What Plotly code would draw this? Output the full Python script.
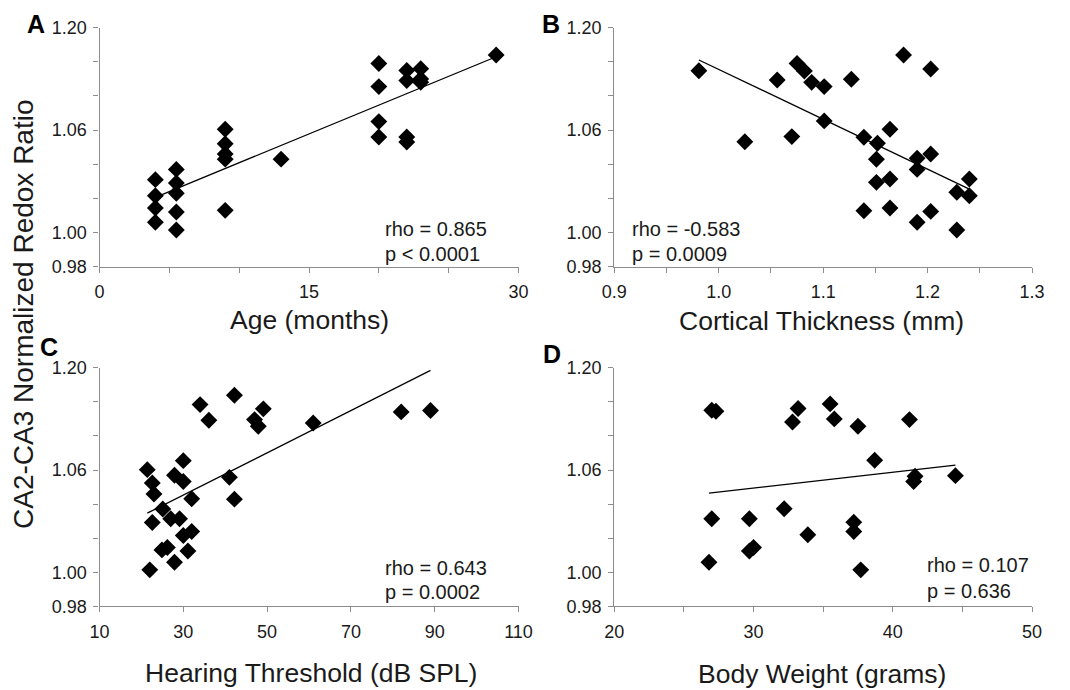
import numpy as np
import plotly.graph_objects as go

# ---------------- data ----------------
age_x = [4, 4, 4, 4, 5.5, 5.5, 5.5, 5.5, 5.5, 9, 9, 9, 9, 9, 13,
         20, 20, 20, 20, 22, 22, 22, 22, 23, 23, 23, 28.4]
age_y = [1.031, 1.0216, 1.0144, 1.006, 1.037, 1.029, 1.023, 1.012, 1.0015,
         1.0605, 1.052, 1.046, 1.043, 1.013, 1.043,
         1.099, 1.0855, 1.065, 1.056, 1.095, 1.089, 1.056, 1.053,
         1.096, 1.090, 1.088, 1.104]

ct_x = [0.981, 1.025, 1.056, 1.070, 1.075, 1.082, 1.089, 1.101, 1.101, 1.127,
        1.177, 1.139, 1.139, 1.152, 1.151, 1.151, 1.164, 1.164, 1.164,
        1.190, 1.190, 1.190, 1.203, 1.203, 1.203, 1.228, 1.228, 1.240, 1.240]
ct_y = [1.0948, 1.0532, 1.0894, 1.0562, 1.0991, 1.0946, 1.088, 1.0855, 1.0654, 1.0898,
        1.104, 1.0558, 1.0128, 1.0523, 1.0429, 1.0294, 1.0605, 1.0314, 1.0144,
        1.0435, 1.037, 1.006, 1.0958, 1.046, 1.0124, 1.0236, 1.0015, 1.0314, 1.0216]

ht_x = [21.4, 22.6, 23.0, 22.6, 22.0, 25.1, 24.9, 26.2, 27.0, 27.9, 27.9, 29.1,
        30.0, 30.0, 30.0, 31.1, 32.0, 32.0, 34.0, 36.1, 41.0, 42.2, 42.2,
        47.0, 47.9, 49.1, 61.0, 82.0, 89.0]
ht_y = [1.0602, 1.0524, 1.0459, 1.0292, 1.0014, 1.0371, 1.0131, 1.0145, 1.0314,
        1.0569, 1.0059, 1.0314, 1.0655, 1.0533, 1.0216, 1.0125, 1.0431, 1.0239,
        1.0984, 1.0892, 1.0557, 1.1039, 1.0429, 1.0896, 1.0857, 1.0959, 1.0876,
        1.0941, 1.0949]

bw_x = [27.0, 27.3, 27.0, 26.8, 29.7, 29.7, 30.0, 32.2, 32.8, 33.2, 33.9,
        35.5, 35.8, 37.2, 37.2, 37.5, 37.7, 38.7, 41.2, 41.5, 41.6, 44.5]
bw_y = [1.0951, 1.0945, 1.0314, 1.0059, 1.0314, 1.0125, 1.0145, 1.0373, 1.0882,
        1.0961, 1.022, 1.0988, 1.09, 1.0294, 1.0239, 1.0857, 1.0014, 1.0657,
        1.0896, 1.0533, 1.0563, 1.0567]

# trend-line fits (slope, intercept)
trend_a = (0.003374, 1.00717)
trend_b = (-0.29190, 1.38745)
trend_c = (0.0012396, 1.00812)
trend_d = (0.0009245, 1.02171)

stats = [("rho = 0.865", "p < 0.0001"), ("rho = -0.583", "p = 0.0009"),
         ("rho = 0.643", "p = 0.0002"), ("rho = 0.107", "p = 0.636")]
x_titles = ["Age (months)", "Cortical Thickness (mm)",
            "Hearing Threshold (dB SPL)", "Body Weight (grams)"]
panel_letters = ["A", "B", "C", "D"]
y_title = "CA2-CA3 Normalized Redox Ratio"

y_tickvals = [0.98, 1.00, 1.02, 1.04, 1.06, 1.08, 1.10, 1.12]
y_ticktext = ["0.98", "1.00", "", "", "1.06", "", "", "1.20"]

# ---------------- figure ----------------
W, H = 1070, 690
def px(x):
    return x / W
def py(y):
    return 1 - y / H

FONT = "Liberation Sans, Arial, sans-serif"
TXT = "#1a1a1a"
AX = "#8c8c8c"

fig = go.Figure()
panels = [
    (age_x, age_y, trend_a, "x", "y"),
    (ct_x, ct_y, trend_b, "x2", "y2"),
    (ht_x, ht_y, trend_c, "x3", "y3"),
    (bw_x, bw_y, trend_d, "x4", "y4"),
]
for xs, ys, (m, b), xa, ya in panels:
    fig.add_trace(go.Scatter(x=xs, y=ys, mode="markers", xaxis=xa, yaxis=ya,
                             marker=dict(symbol="diamond", size=13, color="black",
                                         line=dict(width=0)),
                             cliponaxis=False, showlegend=False))
    x0, x1 = min(xs), max(xs)
    fig.add_trace(go.Scatter(x=[x0, x1], y=[m * x0 + b, m * x1 + b], mode="lines",
                             xaxis=xa, yaxis=ya, line=dict(color="black", width=1.3),
                             cliponaxis=False, showlegend=False))

left_dom = [px(99.5), px(518.5)]
right_dom = [px(614.3), px(1032)]
top_dom = [py(266.7), py(27.7)]
bot_dom = [py(606.3), py(367.8)]

common_axis = dict(showgrid=False, zeroline=False, showline=True, linecolor=AX,
                   linewidth=1.2, ticks="outside", ticklen=5, tickcolor=AX,
                   tickwidth=1.2, automargin=False,
                   tickfont=dict(family=FONT, size=18, color=TXT))

def xaxis(dom, rng, tv, tt, anchor):
    return dict(domain=dom, range=rng, tickmode="array", tickvals=tv, ticktext=tt,
                anchor=anchor, ticklabelstandoff=4, **common_axis)

def yaxis(dom, anchor):
    return dict(domain=dom, range=[0.98, 1.12], tickmode="array",
                tickvals=y_tickvals, ticktext=y_ticktext, anchor=anchor,
                ticklabelstandoff=3, **common_axis)

fig.update_layout(
    xaxis=xaxis(left_dom, [0, 30], [0, 5, 10, 15, 20, 25, 30],
                ["0", "", "", "15", "", "", "30"], "y"),
    yaxis=yaxis(top_dom, "x"),
    xaxis2=xaxis(right_dom, [0.9, 1.3],
                 [0.9, 0.95, 1.0, 1.05, 1.1, 1.15, 1.2, 1.25, 1.3],
                 ["0.9", "", "1.0", "", "1.1", "", "1.2", "", "1.3"], "y2"),
    yaxis2=yaxis(top_dom, "x2"),
    xaxis3=xaxis(left_dom, [10, 110], [10, 30, 50, 70, 90, 110],
                 ["10", "30", "50", "70", "90", "110"], "y3"),
    yaxis3=yaxis(bot_dom, "x3"),
    xaxis4=xaxis(right_dom, [20, 50], [20, 25, 30, 35, 40, 45, 50],
                 ["20", "", "30", "", "40", "", "50"], "y4"),
    yaxis4=yaxis(bot_dom, "x4"),
    width=W, height=H, autosize=False,
    margin=dict(l=0, r=0, t=0, b=0, autoexpand=False),
    paper_bgcolor="white", plot_bgcolor="white",
    font=dict(family=FONT, color=TXT),
)

ann = []
# axis titles
title_pos = [(309, 320), (821, 321), (311, 673), (822, 674)]
for t, (x, y) in zip(x_titles, title_pos):
    ann.append(dict(text=t, x=px(x), y=py(y), xref="paper", yref="paper",
                    xanchor="center", yanchor="middle", showarrow=False,
                    font=dict(family=FONT, size=26.5, color=TXT)))
ann.append(dict(text=y_title, x=px(23), y=py(314), xref="paper", yref="paper",
                xanchor="center", yanchor="middle", showarrow=False, textangle=-90,
                font=dict(family=FONT, size=28, color=TXT)))
# panel letters
letter_pos = [(36, 24), (551, 24), (49, 347), (552, 354)]
for t, (x, y) in zip(panel_letters, letter_pos):
    ann.append(dict(text="<b>%s</b>" % t, x=px(x), y=py(y), xref="paper", yref="paper",
                    xanchor="center", yanchor="middle", showarrow=False,
                    font=dict(family=FONT, size=25, color="black")))
# statistics
stat_pos = [(383, 229, 254), (630, 229, 254), (383, 568, 592), (925, 565, 591)]
for (r, p), (x, y1, y2) in zip(stats, stat_pos):
    for t, y in ((r, y1), (p, y2)):
        ann.append(dict(text=t, x=px(x), y=py(y), xref="paper", yref="paper",
                        xanchor="left", yanchor="middle", showarrow=False,
                        font=dict(family=FONT, size=20, color=TXT)))
fig.update_layout(annotations=ann)

fig.write_html("out.html")
